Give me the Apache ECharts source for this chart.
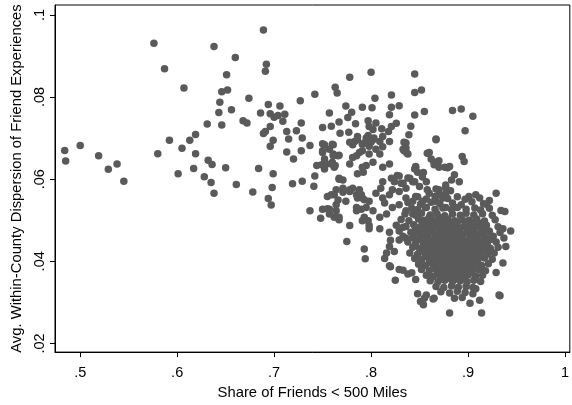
<!DOCTYPE html>
<html>
<head>
<meta charset="utf-8">
<script src="https://cdn.jsdelivr.net/npm/echarts@6/dist/echarts.min.js"></script>
<style>
html,body{margin:0;padding:0;background:#fff;}
#chart{width:572px;height:405px;}
</style>
</head>
<body>
<div id="chart"></div>
<script>
// Axis ticks
const xTicks = [0.5, 0.6, 0.7, 0.8, 0.9, 1.0];
const yTicks = [0.02, 0.04, 0.06, 0.08, 0.1];

// Sparse counties on the left (low share of friends nearby)
const leftGroup = [
[.484,.0670],[.485,.0644],[.500,.0682],[.519,.0657],[.529,.0624],[.538,.0637],[.545,.0595],
[.576,.0931],[.580,.0662],[.587,.0869],[.592,.0695],[.601,.0613],[.605,.0675],[.607,.0822],
[.613,.0695],[.617,.0626],[.619,.0709],[.619,.0662],[.628,.0606],[.631,.0734],[.632,.0646],
[.636,.0636],[.635,.0592],[.638,.0566],[.638,.0923],
[.643,.0762],[.644,.0787],[.646,.0813],[.646,.0732],[.650,.0628],[.651,.0854],[.652,.0817],
[.656,.0769],[.660,.0896],[.661,.0587],[.668,.0742],[.672,.0737],[.674,.0797],[.678,.0569],
[.684,.0626],[.686,.0761],[.689,.0963],[.689,.0711],[.691,.0716],[.691,.0863],[.692,.0880],
[.694,.0782],[.694,.0553],[.696,.0728],[.696,.0759],[.696,.0680],[.697,.0537],[.698,.0580],
[.699,.0613],[.699,.0695],[.700,.0751],[.704,.0755],[.706,.0778],[.709,.0741],[.711,.0758],
[.713,.0716],[.713,.0666],[.715,.0698],[.719,.0589],[.720,.0649],[.723,.0718],[.727,.0791],
[.728,.0737],[.728,.0669],[.729,.0700],[.729,.0595],[.737,.0682],[.741,.0583],[.742,.0608],
[.742,.0807],[.737,.0523]
];

// Middle band
const middleGroup = [
[.750,.0726],[.750,.0686],[.757,.0761],[.759,.0729],[.760,.0685],[.763,.0824],[.765,.0810],
[.767,.0739],[.767,.0658],[.768,.0712],[.774,.0778],[.776,.0750],[.777,.0714],[.778,.0848],
[.780,.0763],[.784,.0735],[.791,.0775],[.797,.0742],[.798,.0728],[.800,.0860],[.801,.0774],
[.804,.0797],[.805,.0737],[.811,.0723],[.819,.0757],[.821,.0805],[.821,.0775],[.821,.0728],
[.826,.0736],[.829,.0779],[.835,.0688],[.839,.0708],[.841,.0729],[.845,.0856],[.845,.0811],
[.852,.0817],[.845,.0756],[.855,.0765],[.858,.0663],[.867,.0698],[.884,.0767],[.893,.0771],
[.897,.0718],[.905,.0753],[.894,.0655],[.896,.0643],
[.750,.0665],[.752,.0649],[.749,.0635],[.754,.0637],[.760,.0641],[.762,.0629],
[.778,.0690],[.783,.0692],[.786,.0704],[.791,.0685],[.795,.0700],[.798,.0680],[.803,.0700],
[.809,.0692],[.812,.0704],[.812,.0679],[.819,.0692],[.767,.0600],[.778,.0637],
[.748,.0505],[.750,.0527],[.755,.0528],[.757,.0515],[.764,.0523],[.767,.0501],[.762,.0507],
[.744,.0633],[.752,.0625],[.759,.0637],[.763,.0633],[.766,.0657],[.761,.0661],[.750,.0669],
[.752,.0684],[.761,.0684],[.771,.0598],
[.755,.0558],[.762,.0562],[.766,.0549],[.771,.0568],[.778,.0574],[.781,.0578],[.788,.0574],
[.790,.0562],[.786,.0554],[.793,.0550],[.795,.0531],[.785,.0523],[.790,.0527],[.793,.0507],
[.797,.0499],[.786,.0613],[.792,.0617],[.795,.0633],[.785,.0657],[.791,.0669],[.781,.0684],
[.795,.0692],[.793,.0688],[.800,.0690],[.797,.0706],[.802,.0721],[.818,.0716],
[.786,.0696],[.802,.0696],[.805,.0673],[.809,.0661],[.798,.0661],[.788,.0665],[.781,.0653],
[.791,.0629],[.802,.0641],[.812,.0629],[.819,.0637],[.836,.0688],[.834,.0669],[.838,.0661],
[.860,.0665],[.867,.0696],[.865,.0641],[.870,.0645],[.876,.0629],[.846,.0629],[.848,.0617],
[.827,.0609],[.824,.0594],[.821,.0602],[.831,.0590],[.840,.0602],[.845,.0594],[.850,.0582],
[.857,.0594],[.860,.0566],[.877,.0586],[.877,.0566],[.870,.0574],[.812,.0594],[.810,.0578],
[.805,.0566],[.812,.0554],[.814,.0542],[.819,.0562],[.822,.0574],[.829,.0570],[.836,.0578],
[.836,.0554],[.843,.0546],[.846,.0558],[.853,.0546],[.857,.0531],[.867,.0546],[.874,.0554],
[.877,.0531],[.843,.0515],[.836,.0523],[.829,.0538],[.822,.0531],[.816,.0515],[.809,.0507],
[.802,.0523],[.798,.0546],[.791,.0554],[.785,.0562],[.778,.0570],[.771,.0578],[.764,.0574],
[.759,.0562],[.767,.0602],[.757,.0673],[.761,.0657],[.791,.0499],[.785,.0531],[.774,.0546],
[.764,.0538],[.757,.0527],[.767,.0507],[.778,.0487],[.798,.0487],[.809,.0479],
[.834,.0690],[.836,.0676],[.833,.0673],[.837,.0663],[.862,.0649],[.865,.0635],[.870,.0629],
[.867,.0641],[.879,.0628],[.881,.0631],[.846,.0631],[.845,.0625],[.854,.0616],[.853,.0605],
[.886,.0611],[.883,.0598],[.891,.0594],[.829,.0608],[.838,.0603],[.843,.0594],[.833,.0590],
[.858,.0574],[.867,.0576],[.877,.0579],[.882,.0572],[.870,.0562],[.874,.0558]
];

// Lower-right dense cluster and its fringe
const denseCluster = [
[.798,.0479],[.775,.0448],[.793,.0430],[.794,.0406],[.814,.0407],[.820,.0387],[.825,.0354],
[.819,.0471],[.820,.0451],[.829,.0380],[.833,.0378],[.838,.0369],
[.936,.0479],[.944,.0474],[.939,.0436],[.936,.0396],[.929,.0373],[.933,.0316],[.914,.0274],
[.912,.0305],[.902,.0298],[.894,.0312],[.886,.0310],[.908,.0333],[.881,.0274],[.864,.0308],
[.854,.0294],[.851,.0302],[.855,.0310],[.819,.0389],[.842,.0372],[.846,.0356],
[.836,.0456],[.829,.0452],[.819,.0436],[.816,.0420],[.824,.0424],
[.848,.0321],[.857,.0318],[.865,.0310],[.905,.0321],[.932,.0318],
[.901,.0558],[.908,.0562],[.929,.0566],[.922,.0548],[.919,.0539],[.934,.0524],[.938,.0521],
[.833,.0483],[.846,.0479],[.860,.0483],[.874,.0487],[.860,.0507],[.870,.0507],[.853,.0499],
[.848,.0557],[.857,.0552],[.866,.0558],[.879,.0553],[.889,.0557],[.897,.0551],[.912,.0554],
[.838,.0543],[.851,.0539],[.862,.0544],[.871,.0540],[.884,.0542],[.893,.0538],[.904,.0545],[.916,.0540],
[.842,.0529],[.848,.0526],[.856,.0531],[.866,.0527],[.874,.0530],[.883,.0526],[.889,.0531],[.898,.0527],[.907,.0530],[.913,.0525],[.922,.0529],
[.835,.0515],[.846,.0512],[.852,.0517],[.861,.0513],[.868,.0516],[.876,.0511],[.884,.0515],[.892,.0512],[.898,.0517],[.906,.0513],[.915,.0516],[.925,.0512],
[.831,.0502],[.839,.0499],[.849,.0503],[.856,.0500],[.863,.0502],[.871,.0498],[.879,.0503],[.886,.0499],[.894,.0502],[.901,.0500],[.909,.0503],[.917,.0498],[.928,.0501],
[.826,.0488],[.836,.0485],[.844,.0489],[.852,.0486],[.859,.0488],[.866,.0485],[.874,.0489],[.881,.0486],[.888,.0488],[.896,.0485],[.903,.0489],[.911,.0486],[.919,.0488],[.931,.0484],
[.829,.0474],[.841,.0471],[.848,.0475],[.855,.0472],[.862,.0474],[.870,.0471],[.877,.0475],[.884,.0472],[.891,.0474],[.899,.0471],[.906,.0475],[.914,.0472],[.922,.0474],[.933,.0470],
[.833,.0461],[.843,.0458],[.851,.0462],[.858,.0459],[.866,.0461],[.873,.0458],[.880,.0462],[.887,.0459],[.894,.0461],[.902,.0458],[.909,.0462],[.917,.0459],[.926,.0461],[.937,.0457],
[.838,.0447],[.846,.0444],[.854,.0448],[.861,.0445],[.869,.0447],[.876,.0444],[.883,.0448],[.890,.0445],[.897,.0447],[.905,.0444],[.912,.0448],[.920,.0445],[.929,.0447],
[.843,.0434],[.850,.0431],[.857,.0435],[.865,.0432],[.872,.0434],[.879,.0431],[.886,.0435],[.893,.0432],[.900,.0434],[.908,.0431],[.915,.0435],[.923,.0432],[.931,.0434],
[.840,.0420],[.848,.0417],[.855,.0421],[.862,.0418],[.869,.0420],[.877,.0417],[.884,.0421],[.891,.0418],[.898,.0420],[.905,.0417],[.912,.0421],[.920,.0418],[.927,.0420],
[.845,.0407],[.852,.0404],[.860,.0408],[.867,.0405],[.874,.0407],[.881,.0404],[.888,.0408],[.895,.0405],[.902,.0407],[.909,.0404],[.917,.0408],[.925,.0405],
[.849,.0393],[.856,.0390],[.864,.0394],[.871,.0391],[.878,.0393],[.885,.0390],[.892,.0394],[.899,.0391],[.906,.0393],[.914,.0390],[.921,.0394],
[.852,.0380],[.860,.0377],[.867,.0381],[.874,.0378],[.882,.0380],[.889,.0377],[.896,.0381],[.903,.0378],[.911,.0380],[.918,.0377],
[.857,.0366],[.864,.0363],[.871,.0367],[.879,.0364],[.886,.0366],[.893,.0363],[.900,.0367],[.908,.0364],[.915,.0366],
[.861,.0353],[.869,.0350],[.876,.0354],[.884,.0351],[.892,.0353],[.899,.0350],[.906,.0354],[.913,.0351],
[.867,.0339],[.875,.0336],[.883,.0340],[.890,.0337],[.898,.0339],[.905,.0336],
[.872,.0326],[.881,.0323],[.889,.0327],[.897,.0324]
];

// Core of the cluster, where markers overlap into a solid mass
const clusterCore = [
[.853,.0492],[.860,.0496],[.867,.0493],[.875,.0495],[.882,.0492],[.889,.0496],[.897,.0493],[.905,.0495],[.913,.0492],
[.848,.0481],[.856,.0479],[.863,.0481],[.870,.0479],[.878,.0482],[.885,.0479],[.892,.0481],[.900,.0479],[.907,.0482],[.915,.0480],
[.845,.0468],[.852,.0466],[.859,.0468],[.866,.0466],[.874,.0468],[.881,.0466],[.888,.0468],[.895,.0466],[.903,.0468],[.911,.0466],[.919,.0467],
[.850,.0454],[.857,.0452],[.865,.0454],[.872,.0452],[.879,.0454],[.887,.0452],[.894,.0454],[.901,.0452],[.909,.0454],[.916,.0452],[.924,.0454],
[.854,.0441],[.861,.0439],[.868,.0441],[.876,.0439],[.883,.0441],[.890,.0439],[.897,.0441],[.904,.0439],[.912,.0441],[.919,.0439],
[.852,.0425],[.859,.0427],[.866,.0425],[.873,.0427],[.881,.0425],[.888,.0427],[.895,.0425],[.902,.0427],[.909,.0425],[.917,.0427],
[.856,.0411],[.864,.0413],[.871,.0411],[.878,.0413],[.885,.0411],[.892,.0413],[.899,.0411],[.906,.0413],[.913,.0411],
[.860,.0397],[.867,.0399],[.874,.0397],[.881,.0399],[.888,.0397],[.895,.0399],[.902,.0397],[.910,.0399],
[.864,.0384],[.871,.0386],[.878,.0384],[.885,.0386],[.892,.0384],[.899,.0386],[.907,.0384],
[.868,.0370],[.875,.0372],[.882,.0370],[.889,.0372],[.896,.0370],[.904,.0372],
[.872,.0357],[.880,.0359],[.888,.0357],[.895,.0359]
];

const allPoints = leftGroup.concat(middleGroup, denseCluster, clusterCore);

const fmt = v => {
  const s = String(Math.round(v * 1000) / 1000);
  return s.startsWith('0.') ? s.slice(1) : s;
};

const FONT = 'Liberation Sans, Arial, Helvetica, sans-serif';

const chart = echarts.init(document.getElementById('chart'), null, {renderer: 'canvas'});
chart.setOption({
  animation: false,
  backgroundColor: '#fff',
  grid: {left: 55, top: 5, right: 1, bottom: 43, show: true, borderColor: '#000', borderWidth: 1, containLabel: false},
  xAxis: {
    type: 'value', min: 0.474, max: 1.005,
    name: 'Share of Friends < 500 Miles', nameLocation: 'middle', nameGap: 25,
    nameTextStyle: {fontFamily: FONT, fontSize: 14.8, color: '#000'},
    axisLine: {show: true, onZero: false, lineStyle: {color: '#000', width: 1}},
    axisTick: {show: true, length: 5, customValues: xTicks, lineStyle: {color: '#000'}},
    axisLabel: {customValues: xTicks, formatter: fmt, margin: 13, fontFamily: FONT, fontSize: 14.5, color: '#000'},
    splitLine: {show: false}
  },
  yAxis: {
    type: 'value', min: 0.0179, max: 0.1024,
    name: 'Avg. Within-County Dispersion of Friend Experiences', nameLocation: 'middle', nameGap: 26, nameRotate: 90,
    nameTextStyle: {fontFamily: FONT, fontSize: 14.8, color: '#000'},
    axisLine: {show: true, onZero: false, lineStyle: {color: '#000', width: 1}},
    axisTick: {show: true, length: 5, customValues: yTicks, lineStyle: {color: '#000'}},
    axisLabel: {customValues: yTicks, formatter: fmt, rotate: 90, margin: 8, fontFamily: FONT, fontSize: 14.5, color: '#000'},
    splitLine: {show: false}
  },
  series: [{
    type: 'scatter',
    data: allPoints,
    symbol: 'circle',
    symbolSize: 7.5,
    itemStyle: {color: '#5a5a5a', opacity: 1},
    emphasis: {disabled: true}
  }]
});
</script>
</body>
</html>
